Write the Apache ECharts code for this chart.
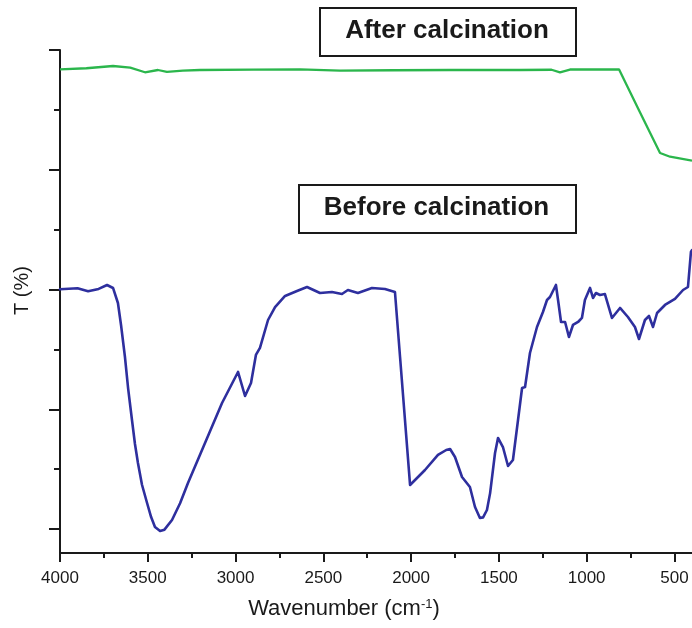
<!DOCTYPE html>
<html>
<head>
<meta charset="utf-8">
<script src="https://cdn.jsdelivr.net/npm/echarts@6/dist/echarts.min.js"></script>
<style>
html,body{margin:0;padding:0;background:#fff;}
#chart{width:692px;height:628px;}
</style>
</head>
<body>
<div id="chart"></div>
<script>
// ---- Data ----
const xMajorTicks = [4000, 3500, 3000, 2500, 2000, 1500, 1000, 500];
const xMinorTicks = [3750, 3250, 2750, 2250, 1750, 1250, 750];
const yMajorTicks = [4, 24, 44, 64, 84];
const yMinorTicks = [14, 34, 54, 74];

const afterWavenumber = [4000, 3850, 3698, 3600, 3516, 3442, 3391, 3300, 3203, 2900, 2633, 2405, 2100, 1778, 1380, 1200, 1152, 1095, 816, 700, 582, 525, 400];
const afterT = [80.77, 80.95, 81.33, 81.05, 80.28, 80.66, 80.33, 80.55, 80.66, 80.72, 80.77, 80.55, 80.62, 80.66, 80.66, 80.70, 80.28, 80.74, 80.77, 73.8, 66.8, 66.18, 65.51];

const beforeWavenumber = [4000, 3900, 3840, 3780, 3732, 3698, 3670, 3652, 3630, 3612, 3590, 3573, 3556, 3533, 3504, 3481, 3459, 3430, 3405, 3362, 3316, 3271, 3174, 3077,
  2986, 2946, 2912, 2884, 2861, 2815, 2775, 2718, 2650, 2593, 2519, 2451, 2394, 2360, 2303, 2223, 2149, 2092,
  2063, 2006, 1921, 1847, 1800, 1778, 1750, 1710, 1665, 1636, 1608, 1590, 1568, 1550, 1522, 1505, 1477, 1448, 1420, 1391, 1368,
  1351, 1323, 1283, 1249, 1226, 1209, 1175, 1163, 1146, 1123, 1101, 1078, 1049, 1027, 1010, 981, 964, 947, 924,
  896, 856, 810, 765, 725, 702, 668, 645, 622, 599, 554, 497, 451, 423, 406, 400];
const beforeT = [44.04, 44.20, 43.70, 44.10, 44.76, 44.26, 41.75, 38.0, 32.73, 27.5, 22.21, 18.2, 15.03, 11.4, 8.35, 6.0, 4.34, 3.67, 3.9, 5.51, 8.3, 11.69, 18.37, 25.05,
  30.23, 26.22, 28.39, 33.07, 34.24, 38.91, 41.08, 42.92, 43.75, 44.42, 43.42, 43.59, 43.25, 43.92, 43.42, 44.26, 44.09, 43.59,
  32.73, 11.36, 13.86, 16.37, 17.20, 17.37, 16.03, 12.69, 11.02, 7.68, 5.85, 5.95, 7.18, 10.0, 16.7, 19.21, 17.70, 14.53, 15.53, 22.21, 27.56,
  27.72, 33.40, 37.74, 40.25, 42.25, 42.75, 44.76, 42.25, 38.58, 38.58, 36.07, 38.08, 38.58, 39.25, 42.25, 44.26, 42.59, 43.42, 43.09,
  43.25, 39.25, 40.92, 39.41, 37.74, 35.74, 38.91, 39.58, 37.74, 40.08, 41.42, 42.42, 43.92, 44.42, 50.27, 50.6];

const yName = 'T (%)';
const labelAfter = 'After calcination';
const labelBefore = 'Before calcination';

const zip = (a, b) => a.map((v, i) => [v, b[i]]);

const FONT = '"Liberation Sans", Arial, Helvetica, sans-serif';
const AXIS_COLOR = '#1a1a1a';

const chart = echarts.init(document.getElementById('chart'), null, {renderer: 'canvas'});

const option = {
  animation: false,
  backgroundColor: '#fff',
  grid: {left: 60, right: 0, top: 50, bottom: 75, containLabel: false},
  xAxis: [
    {
      type: 'value', inverse: true, min: 400, max: 4000,
      name: '{a|Wavenumber (cm}{s|-1}{a|)}',
      nameLocation: 'middle', nameGap: 45,
      nameTextStyle: {
        padding: [0, 64, 0, 0],
        rich: {
          a: {fontFamily: FONT, fontSize: 22, color: '#1a1a1a'},
          s: {fontFamily: FONT, fontSize: 13, color: '#1a1a1a', verticalAlign: 'top', padding: [0, 0, 8, 0]}
        }
      },
      axisLine: {show: true, lineStyle: {color: AXIS_COLOR, width: 2}},
      axisTick: {show: true, inside: false, length: 9, lineStyle: {color: AXIS_COLOR, width: 2}, customValues: xMajorTicks},
      axisLabel: {show: true, margin: 17, fontFamily: FONT, fontSize: 17, color: '#1a1a1a', customValues: xMajorTicks,
        formatter: v => String(v)},
      splitLine: {show: false}
    },
    {
      type: 'value', inverse: true, min: 400, max: 4000, position: 'bottom',
      axisLine: {show: false},
      axisTick: {show: true, inside: false, length: 5, lineStyle: {color: AXIS_COLOR, width: 2}, customValues: xMinorTicks},
      axisLabel: {show: false},
      splitLine: {show: false}
    }
  ],
  yAxis: [
    {
      type: 'value', min: 0, max: 84, position: 'left',
      name: yName, nameLocation: 'middle', nameGap: 28,
      nameTextStyle: {fontFamily: FONT, fontSize: 20, color: '#1a1a1a', padding: [0, 0, 0, 22]},
      axisLine: {show: true, lineStyle: {color: AXIS_COLOR, width: 2}},
      axisTick: {show: true, inside: false, length: 11, lineStyle: {color: AXIS_COLOR, width: 2}, customValues: yMajorTicks},
      axisLabel: {show: false},
      splitLine: {show: false}
    },
    {
      type: 'value', min: 0, max: 84, position: 'left', offset: 0,
      axisLine: {show: false},
      axisTick: {show: true, inside: false, length: 6, lineStyle: {color: AXIS_COLOR, width: 2}, customValues: yMinorTicks},
      axisLabel: {show: false},
      splitLine: {show: false}
    }
  ],
  series: [
    {
      name: labelAfter, type: 'line', xAxisIndex: 0, yAxisIndex: 0,
      data: zip(afterWavenumber, afterT),
      showSymbol: false, smooth: false,
      lineStyle: {color: '#2bb64c', width: 2.3}
    },
    {
      name: labelBefore, type: 'line', xAxisIndex: 0, yAxisIndex: 0,
      data: zip(beforeWavenumber, beforeT),
      showSymbol: false, smooth: false,
      lineStyle: {color: '#2e2f9e', width: 2.6, join: 'round', cap: 'round'}
    }
  ],
  graphic: [
    {type: 'rect', left: 319, top: 7, shape: {width: 256, height: 48}, style: {fill: '#fff', stroke: '#1a1a1a', lineWidth: 2}, z: 10},
    {type: 'text', x: 447, y: 31, style: {text: labelAfter, fontFamily: FONT, fontWeight: 'bold', fontSize: 26, fill: '#1a1a1a', align: 'center', verticalAlign: 'middle'}, z: 11},
    {type: 'rect', left: 298, top: 184, shape: {width: 277, height: 48}, style: {fill: '#fff', stroke: '#1a1a1a', lineWidth: 2}, z: 10},
    {type: 'text', x: 436.5, y: 208, style: {text: labelBefore, fontFamily: FONT, fontWeight: 'bold', fontSize: 26, fill: '#1a1a1a', align: 'center', verticalAlign: 'middle'}, z: 11}
  ]
};
chart.setOption(option);
</script>
</body>
</html>
